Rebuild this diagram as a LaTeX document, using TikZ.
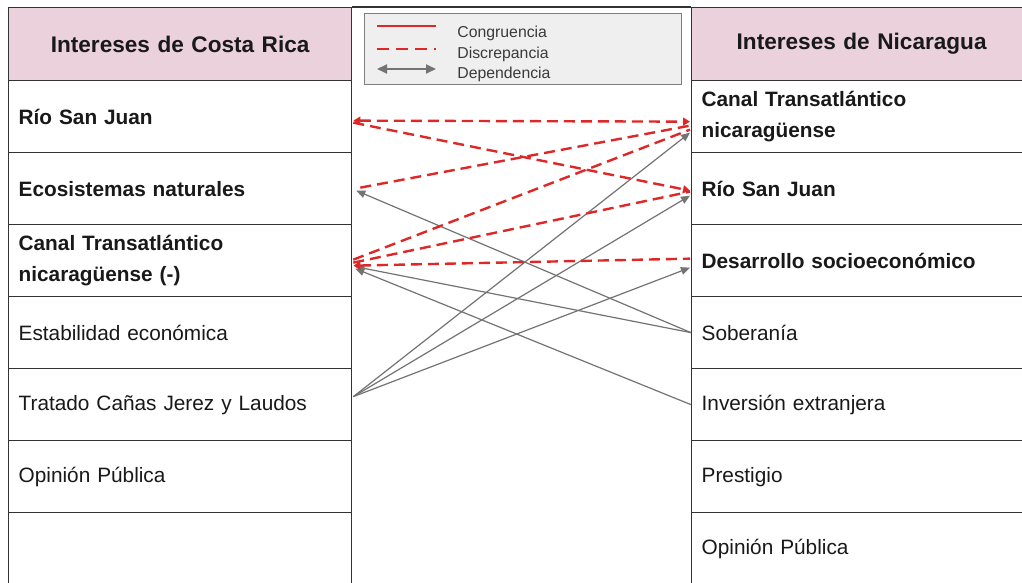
\documentclass[tikz,border=0pt]{standalone}
\usepackage{fontspec}
\setmainfont{Liberation Sans}
\usetikzlibrary{arrows.meta,calc}
\definecolor{hdr}{RGB}{234,209,220}
\definecolor{gridc}{RGB}{51,51,51}
\definecolor{disc}{RGB}{222,40,40}
\definecolor{dep}{RGB}{115,115,115}
\definecolor{legfill}{RGB}{239,239,239}
\definecolor{legdraw}{RGB}{125,125,125}
\definecolor{txt}{RGB}{25,25,25}
\tikzset{
  cell/.style={draw=gridc, line width=0.65pt, anchor=north west, inner xsep=5pt, inner ysep=0pt,
    minimum height=36pt, align=left, text=txt, font=\fontsize{10.4}{15.5}\selectfont},
  lcell/.style={cell, text width=161.5pt},
  rcell/.style={cell, text width=160pt},
  hcell/.style={cell, fill=hdr, align=center, minimum height=36.5pt, font=\bfseries\fontsize{11.3}{14}\selectfont},
  bcell/.style={font=\bfseries\fontsize{10.4}{15.5}\selectfont},
  legtext/.style={anchor=west, inner sep=0pt, text=txt!85, font=\fontsize{7.9}{9}\selectfont},
  discline/.style={draw=disc, line width=1.2pt, dash pattern=on 5.5pt off 3pt},
  redtip/.style={-{Triangle[length=3.5pt,width=4pt]}},
  depline/.style={draw=dep, line width=0.6pt, -{Triangle[length=4.5pt,width=3.8pt]}},
}
\begin{document}
\begin{tikzpicture}[x=0.5pt,y=-0.5pt]
\clip (0,0) rectangle (1022,583);
\fill[white] (0,0) rectangle (1022,583);
% headers
\node[hcell, text width=161.5pt] (hl) at (8,7) {Intereses de Costa Rica};
\node[hcell, text width=160pt] (hr) at (691,7) {Intereses de Nicaragua};
\draw[gridc, line width=0.65pt] (hl.north east) -- (hr.north west);
% left column
\node[lcell, bcell] (cr1) at (8,80) {Río San Juan};
\node[lcell, bcell] (cr2) at (8,152) {Ecosistemas naturales};
\node[lcell, bcell] (cr3) at (8,224) {Canal Transatlántico\\nicaragüense (-)};
\node[lcell] (cr4) at (8,296) {Estabilidad económica};
\node[lcell] (cr5) at (8,368) {Tratado Cañas Jerez y Laudos};
\node[lcell] (cr6) at (8,440) {Opinión Pública};
\node[lcell] (cr7) at (8,512) {};
% right column
\node[rcell, bcell] (ni1) at (691,80) {Canal Transatlántico\\nicaragüense};
\node[rcell, bcell] (ni2) at (691,152) {Río San Juan};
\node[rcell, bcell] (ni3) at (691,224) {Desarrollo socioeconómico};
\node[rcell] (ni4) at (691,296) {Soberanía};
\node[rcell] (ni5) at (691,368) {Inversión extranjera};
\node[rcell] (ni6) at (691,440) {Prestigio};
\node[rcell] (ni7) at (691,512) {Opinión Pública};
% legend
\node[draw=legdraw, fill=legfill, line width=0.5pt, anchor=north west, inner sep=0pt,
      minimum width=158.5pt, minimum height=35.5pt] (legend) at (364,13) {};
\coordinate (l1a) at ($(legend.north west)+(13,13)$);
\coordinate (l1b) at ($(legend.north west)+(72,13)$);
\coordinate (l2a) at ($(legend.north west)+(13,36)$);
\coordinate (l2b) at ($(legend.north west)+(72,36)$);
\coordinate (l3a) at ($(legend.north west)+(13,56)$);
\coordinate (l3b) at ($(legend.north west)+(72,56)$);
\draw[disc, line width=1.2pt] (l1a) -- (l1b);
\draw[disc, line width=1.2pt, dash pattern=on 6pt off 3.5pt] (l2a) -- (l2b);
\draw[dep, line width=1pt, {Triangle[length=5pt,width=4.5pt]}-{Triangle[length=5pt,width=4.5pt]}] (l3a) -- (l3b);
\node[legtext] (lt1) at ($(legend.north west)+(93,20)$) {Congruencia};
\node[legtext] (lt2) at ($(legend.north west)+(93,41)$) {Discrepancia};
\node[legtext] (lt3) at ($(legend.north west)+(93,61)$) {Dependencia};
% dependency connectors (gray)
\draw[depline] (ni4.west) -- ($(cr2.east)+(4,2)$);
\draw[depline] (ni4.west) -- ($(cr3.east)+(3,6)$);
\draw[depline] (ni5.west) -- ($(cr3.east)+(3,8)$);
\draw[depline] ($(cr5.east)+(1,-8)$) -- ($(ni1.west)+(-1,16)$);
\draw[depline] ($(cr5.east)+(1,-8)$) -- ($(ni2.west)+(-1,7)$);
\draw[depline] ($(cr5.east)+(1,-8)$) -- ($(ni3.west)+(-1,7)$);
% discrepancy connectors (red dashed)
\draw[discline, {Triangle[length=3.5pt,width=4pt]}-{Triangle[length=3.5pt,width=4pt]}] ($(cr1.east)+(1,4)$) -- ($(ni1.west)+(-1,5)$);
\draw[discline, redtip] ($(cr1.east)+(1,6)$) -- ($(ni2.west)+(-1,2)$);
\draw[discline] ($(cr2.east)+(8,-1)$) -- ($(ni1.west)+(-1,9)$);
\draw[discline] ($(cr3.east)+(1,-1)$) -- ($(ni1.west)+(-1,13)$);
\draw[discline] ($(cr3.east)+(1,2)$) -- ($(ni2.west)+(-1,3)$);
\draw[discline, {Triangle[length=3.5pt,width=4pt]}-] ($(cr3.east)+(1,5)$) -- ($(ni3.west)+(-1,-2)$);
\end{tikzpicture}
\end{document}
